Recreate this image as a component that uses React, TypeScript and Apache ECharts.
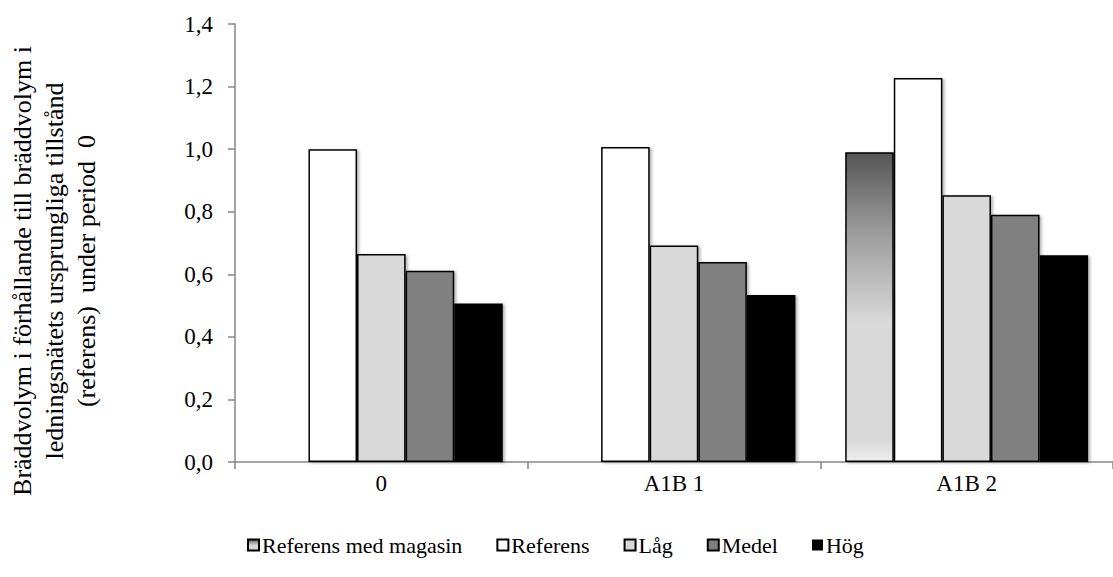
import React, { useEffect, useRef } from "react";
import * as echarts from "echarts";

const categories = ["0", "A1B 1", "A1B 2"];
const seriesNames = ["Referens med magasin", "Referens", "Låg", "Medel", "Hög"];
const refMedMagasin: (number | string)[] = ["-", "-", 0.99];
const referens = [1.0, 1.007, 1.227];
const lag = [0.665, 0.692, 0.853];
const medel = [0.611, 0.639, 0.79];
const hog = [0.507, 0.534, 0.661];
const yTicks = { min: 0, max: 1.4, interval: 0.2 };
const yTitle =
  "Bräddvolym i förhållande till bräddvolym i\nledningsnätets ursprungliga tillstånd\n(referens)  under period  0";

const FONT = "Liberation Serif";

export default function App() {
  const ref = useRef<HTMLDivElement>(null);
  useEffect(() => {
    if (!ref.current) return;
    const chart = echarts.init(ref.current, undefined, { renderer: "svg" });
    const shadow = {
      shadowColor: "rgba(0,0,0,0.3)",
      shadowBlur: 3,
      shadowOffsetX: 2,
      shadowOffsetY: 1,
    };
    const gradient = new echarts.graphic.LinearGradient(0, 0, 0, 1, [
      { offset: 0, color: "#555555" },
      { offset: 0.25, color: "#9a9a9a" },
      { offset: 0.55, color: "#d9d9d9" },
      { offset: 0.93, color: "#d9d9d9" },
      { offset: 1, color: "#ededed" },
    ]);
    const styles = [
      { color: gradient, borderColor: "#000", borderWidth: 1.5 },
      { color: "#ffffff", borderColor: "#000", borderWidth: 1.5 },
      { color: "#d9d9d9", borderColor: "#000", borderWidth: 1.5 },
      { color: "#808080", borderColor: "#000", borderWidth: 1.5 },
      { color: "#000000", borderColor: "#000", borderWidth: 0 },
    ];
    const datas = [refMedMagasin, referens, lag, medel, hog];
    chart.setOption({
      animation: false,
      textStyle: { fontFamily: FONT },
      grid: { left: 235, top: 24, width: 886, height: 438 },
      legend: {
        bottom: 16,
        left: 242,
        itemWidth: 11,
        itemHeight: 11,
        itemGap: 34,
        icon: "rect",
        textStyle: { fontFamily: FONT, fontSize: 22, color: "#000", padding: [0, 0, 0, -2] },
        data: seriesNames,
      },
      xAxis: {
        type: "category",
        data: categories,
        axisLine: { lineStyle: { color: "#868686", width: 1.5 } },
        axisTick: { show: true, length: 7, lineStyle: { color: "#868686", width: 1.5 } },
        axisLabel: { fontFamily: FONT, fontSize: 23, color: "#000", margin: 10 },
      },
      yAxis: {
        type: "value",
        min: yTicks.min,
        max: yTicks.max,
        interval: yTicks.interval,
        splitLine: { show: false },
        axisLine: { show: true, lineStyle: { color: "#868686", width: 1.5 } },
        axisTick: { show: true, length: 7, lineStyle: { color: "#868686", width: 1.5 } },
        axisLabel: {
          fontFamily: FONT,
          fontSize: 23,
          color: "#000",
          margin: 22,
          formatter: (v: number) => v.toFixed(1).replace(".", ","),
        },
      },
      graphic: [
        {
          type: "text",
          x: 54,
          y: 271,
          rotation: Math.PI / 2,
          style: {
            text: yTitle,
            fontFamily: FONT,
            fontSize: 26,
            fill: "#000",
            align: "center",
            verticalAlign: "middle",
            lineHeight: 32,
          },
        },
      ],
      series: seriesNames.map((name, i) => ({
        name,
        type: "bar",
        data: datas[i],
        barGap: "0%",
        barCategoryGap: "17%",
        itemStyle: { ...styles[i], ...shadow },
        emphasis: { disabled: true },
      })),
    });
    return () => chart.dispose();
  }, []);
  return (
    <div
      ref={ref}
      style={{ position: "fixed", left: 0, top: 0, width: 1113, height: 577, background: "#fff" }}
    />
  );
}
